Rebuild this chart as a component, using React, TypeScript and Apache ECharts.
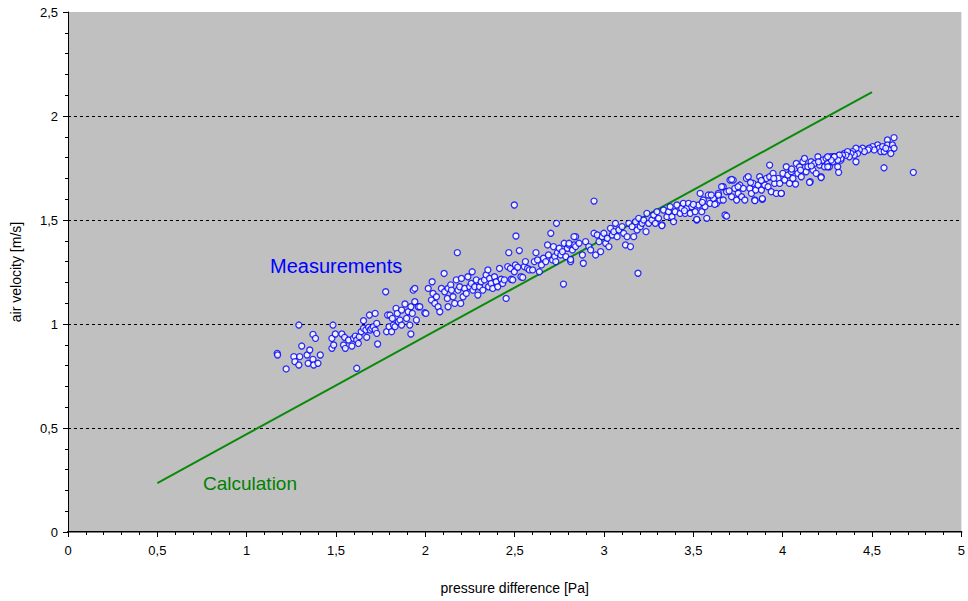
import React, { useEffect, useRef } from "react";
import * as echarts from "echarts";

const xTickValues = [0, 0.5, 1, 1.5, 2, 2.5, 3, 3.5, 4, 4.5, 5];
const yTickValues = [0, 0.5, 1, 1.5, 2, 2.5];

// Calculation (theoretical line): [pressure difference Pa, air velocity m/s]
const calculation: [number, number][] = [
  [0.5, 0.235], [1, 0.47], [1.5, 0.705], [2, 0.94], [2.5, 1.175],
  [3, 1.41], [3.5, 1.645], [4, 1.88], [4.5, 2.115],
];

const measurements: [number, number][] = [
  [1.171, 0.859], [1.173, 0.851], [1.221, 0.784], [1.264, 0.843], [1.27, 0.819], [1.292, 0.803],
  [1.297, 0.843], [1.308, 0.894], [1.292, 0.995], [1.338, 0.851], [1.353, 0.875], [1.344, 0.811],
  [1.371, 0.83], [1.375, 0.803], [1.399, 0.811], [1.412, 0.851], [1.371, 0.95], [1.385, 0.931],
  [1.477, 0.931], [1.477, 0.883], [1.487, 0.899], [1.496, 0.952], [1.483, 0.995], [1.533, 0.952],
  [1.548, 0.936], [1.542, 0.899], [1.552, 0.883], [1.57, 0.923], [1.589, 0.894], [1.598, 0.931],
  [1.608, 0.942], [1.616, 0.923], [1.616, 0.787], [1.625, 0.907], [1.63, 0.939], [1.641, 0.963],
  [1.654, 1.016], [1.654, 0.979], [1.667, 0.971], [1.672, 0.936], [1.682, 0.984], [1.687, 1.043],
  [1.691, 0.971], [1.7, 0.979], [1.709, 0.987], [1.719, 1.051], [1.719, 0.971], [1.728, 0.955],
  [1.728, 1.003], [1.733, 0.904], [1.778, 1.155], [1.783, 0.963], [1.789, 1.043], [1.797, 0.987],
  [1.802, 1.043], [1.811, 0.963], [1.815, 1.027], [1.821, 0.995], [1.83, 0.987], [1.836, 1.075],
  [1.843, 1.051], [1.849, 1.011], [1.858, 1.019], [1.867, 0.995], [1.867, 1.067], [1.886, 1.096],
  [1.895, 1.027], [1.904, 1.059], [1.913, 0.995], [1.919, 1.083], [1.919, 0.952], [1.927, 1.051],
  [1.932, 1.163], [1.941, 1.171], [1.941, 1.107], [1.95, 1.019], [1.96, 1.083], [1.997, 1.054],
  [2.003, 1.051], [1.969, 1.083], [2.016, 1.171], [2.038, 1.203], [2.034, 1.115], [2.043, 1.147],
  [2.053, 1.099], [2.062, 1.131], [2.071, 1.083], [2.081, 1.059], [2.09, 1.171], [2.105, 1.243],
  [2.108, 1.155], [2.123, 1.123], [2.127, 1.171], [2.127, 1.083], [2.142, 1.188], [2.146, 1.163],
  [2.155, 1.131], [2.164, 1.099], [2.173, 1.212], [2.179, 1.343], [2.183, 1.163], [2.192, 1.179],
  [2.198, 1.099], [2.202, 1.219], [2.211, 1.131], [2.22, 1.171], [2.229, 1.147], [2.238, 1.227],
  [2.248, 1.179], [2.257, 1.195], [2.262, 1.251], [2.266, 1.163], [2.276, 1.179], [2.285, 1.212],
  [2.294, 1.139], [2.303, 1.179], [2.312, 1.203], [2.322, 1.163], [2.331, 1.212], [2.34, 1.236],
  [2.35, 1.26], [2.354, 1.179], [2.359, 1.219], [2.368, 1.195], [2.377, 1.171], [2.387, 1.227],
  [2.396, 1.203], [2.405, 1.179], [2.415, 1.267], [2.424, 1.215], [2.433, 1.195], [2.442, 1.212],
  [2.452, 1.123], [2.461, 1.276], [2.467, 1.343], [2.476, 1.267], [2.48, 1.215], [2.489, 1.212],
  [2.498, 1.251], [2.498, 1.572], [2.507, 1.423], [2.504, 1.284], [2.517, 1.273], [2.526, 1.353],
  [2.535, 1.227], [2.545, 1.224], [2.554, 1.276], [2.56, 1.3], [2.572, 1.267], [2.582, 1.26],
  [2.6, 1.26], [2.61, 1.3], [2.619, 1.343], [2.628, 1.308], [2.638, 1.251], [2.65, 1.284],
  [2.661, 1.316], [2.674, 1.3], [2.684, 1.38], [2.689, 1.332], [2.702, 1.436], [2.712, 1.308],
  [2.717, 1.372], [2.724, 1.324], [2.73, 1.3], [2.734, 1.484], [2.739, 1.343], [2.749, 1.364],
  [2.758, 1.332], [2.767, 1.348], [2.773, 1.192], [2.777, 1.388], [2.786, 1.324], [2.795, 1.364],
  [2.804, 1.38], [2.813, 1.3], [2.823, 1.356], [2.832, 1.38], [2.841, 1.42], [2.804, 1.388],
  [2.813, 1.31], [2.832, 1.42], [2.841, 1.372], [2.86, 1.388], [2.879, 1.332], [2.884, 1.292],
  [2.897, 1.396], [2.915, 1.372], [2.925, 1.356], [2.944, 1.436], [2.944, 1.591], [2.953, 1.332],
  [2.962, 1.428], [2.972, 1.396], [2.981, 1.348], [2.99, 1.42], [2.999, 1.436], [3.009, 1.388],
  [3.018, 1.412], [3.027, 1.372], [3.036, 1.46], [3.046, 1.428], [3.055, 1.444], [3.064, 1.484],
  [3.073, 1.42], [3.083, 1.452], [3.101, 1.468], [3.11, 1.436], [3.12, 1.38], [3.129, 1.42],
  [3.139, 1.484], [3.148, 1.372], [3.157, 1.468], [3.166, 1.42], [3.176, 1.492], [3.185, 1.452],
  [3.19, 1.244], [3.194, 1.508], [3.203, 1.468], [3.213, 1.484], [3.222, 1.5], [3.235, 1.444],
  [3.24, 1.532], [3.25, 1.484], [3.268, 1.5], [3.278, 1.524], [3.287, 1.484], [3.296, 1.54],
  [3.305, 1.508], [3.324, 1.476], [3.333, 1.548], [3.352, 1.516], [3.361, 1.54], [3.37, 1.564],
  [3.38, 1.516], [3.389, 1.492], [3.398, 1.54], [3.408, 1.572], [3.426, 1.532], [3.435, 1.556],
  [3.444, 1.58], [3.454, 1.532], [3.463, 1.556], [3.473, 1.58], [3.482, 1.532], [3.491, 1.564],
  [3.51, 1.54], [3.519, 1.5], [3.529, 1.572], [3.538, 1.628], [3.547, 1.54], [3.556, 1.596],
  [3.565, 1.564], [3.575, 1.508], [3.584, 1.62], [3.593, 1.58], [3.612, 1.604], [3.63, 1.58],
  [3.64, 1.628], [3.649, 1.596], [3.667, 1.66], [3.677, 1.524], [3.686, 1.519], [3.64, 1.62],
  [3.658, 1.66], [3.667, 1.596], [3.686, 1.636], [3.705, 1.692], [3.714, 1.612], [3.723, 1.692],
  [3.732, 1.652], [3.742, 1.596], [3.751, 1.628], [3.76, 1.668], [3.77, 1.612], [3.779, 1.652],
  [3.788, 1.596], [3.797, 1.7], [3.807, 1.708], [3.816, 1.652], [3.825, 1.628], [3.834, 1.676],
  [3.844, 1.596], [3.849, 1.644], [3.862, 1.668], [3.871, 1.708], [3.881, 1.644], [3.886, 1.599],
  [3.899, 1.668], [3.909, 1.7], [3.918, 1.66], [3.927, 1.708], [3.936, 1.636], [3.946, 1.724],
  [3.955, 1.676], [3.964, 1.628], [3.974, 1.7], [3.983, 1.676], [3.992, 1.628], [4.001, 1.724],
  [4.011, 1.692], [4.02, 1.756], [4.029, 1.716], [4.038, 1.676], [4.048, 1.732], [4.057, 1.7],
  [4.072, 1.673], [4.076, 1.772], [4.085, 1.724], [4.094, 1.756], [4.104, 1.708], [4.113, 1.78],
  [4.122, 1.796], [4.131, 1.732], [4.141, 1.756], [4.154, 1.684], [4.159, 1.78], [4.169, 1.74],
  [4.178, 1.772], [4.187, 1.724], [4.197, 1.804], [4.206, 1.764], [4.215, 1.708], [4.224, 1.788],
  [4.234, 1.756], [4.243, 1.796], [4.252, 1.772], [4.261, 1.756], [4.271, 1.804], [4.28, 1.78],
  [4.289, 1.804], [4.308, 1.756], [4.317, 1.812], [4.326, 1.788], [4.345, 1.82], [4.313, 1.729],
  [4.567, 1.751], [4.731, 1.729], [4.623, 1.896], [4.586, 1.885], [4.586, 1.861], [4.596, 1.837],
  [4.614, 1.861], [4.623, 1.845], [4.605, 1.82], [4.531, 1.861], [4.54, 1.845], [4.549, 1.829],
  [4.559, 1.853], [4.568, 1.829], [4.577, 1.845], [4.503, 1.853], [4.512, 1.837], [4.484, 1.845],
  [4.477, 1.837], [4.447, 1.845], [4.457, 1.829], [4.429, 1.837], [4.419, 1.82], [4.41, 1.845],
  [4.391, 1.829], [4.401, 1.812], [4.382, 1.82], [4.373, 1.804], [4.363, 1.829], [4.354, 1.812],
  [4.335, 1.812], [4.326, 1.796], [4.317, 1.812], [4.308, 1.788], [4.41, 1.78], [4.289, 1.804],
  [4.271, 1.788], [4.252, 1.804], [4.252, 1.756], [3.324, 1.473], [3.519, 1.503], [3.844, 1.593],
  [3.886, 1.603], [3.992, 1.628], [4.15, 1.681], [4.215, 1.704], [3.927, 1.764], [3.714, 1.695],
  [3.6, 1.62], [3.62, 1.575], [3.7, 1.64], [3.75, 1.66], [3.82, 1.68], [3.88, 1.69], [3.95, 1.7],
  [4.05, 1.745], [4.1, 1.74], [4.16, 1.76], [4.2, 1.78], [3.45, 1.545], [3.5, 1.575], [3.55, 1.585],
];

const fmt = (v: number) => String(v).replace(".", ",");

export default function App() {
  const ref = useRef<HTMLDivElement>(null);
  useEffect(() => {
    if (!ref.current) return;
    const chart = echarts.init(ref.current, null, { renderer: "svg" });
    const font = "Liberation Sans, Arial, sans-serif";
    chart.setOption({
      animation: false,
      backgroundColor: "#ffffff",
      textStyle: { fontFamily: font },
      grid: {
        left: 68, top: 12, width: 901, height: 520,
        show: true, backgroundColor: "#C0C0C0", borderWidth: 0,
      },
      xAxis: [
        {
          type: "value", min: 0, max: 5, interval: 0.5,
          name: "pressure difference [Pa]", nameLocation: "middle", nameGap: 49,
          nameTextStyle: { fontSize: 14, color: "#000", fontFamily: font },
          axisLine: { show: true, onZero: false, lineStyle: { color: "#000", width: 2 } },
          axisTick: { show: true, length: 5, lineStyle: { color: "#000" } },
          minorTick: { show: true, splitNumber: 5, length: 3, lineStyle: { color: "#000" } },
          axisLabel: {
            margin: 12, fontSize: 13, color: "#000", fontFamily: font,
            formatter: (v: number) => (xTickValues.includes(v) ? fmt(v) : ""),
          },
          splitLine: { show: false },
        },
        {
          type: "value", min: 0, max: 5, position: "top",
          axisLine: { show: true, lineStyle: { color: "#808080", width: 1 } },
          axisTick: { show: false }, axisLabel: { show: false }, splitLine: { show: false },
        },
      ],
      yAxis: {
        type: "value", min: 0, max: 2.5, interval: 0.5,
        name: "air velocity [m/s]", nameLocation: "middle", nameGap: 45, nameRotate: 90,
        nameTextStyle: { fontSize: 14, color: "#000", fontFamily: font },
        axisLine: { show: true, lineStyle: { color: "#000", width: 1 } },
        axisTick: { show: true, length: 5, lineStyle: { color: "#000" } },
        minorTick: { show: true, splitNumber: 5, length: 3, lineStyle: { color: "#000" } },
        axisLabel: {
          margin: 10, fontSize: 13, color: "#000", fontFamily: font,
          formatter: (v: number) => (yTickValues.includes(v) ? fmt(v) : ""),
        },
        splitLine: {
          show: true,
          lineStyle: {
            color: ["rgba(0,0,0,0)", "#000", "#000", "#000", "#000", "rgba(0,0,0,0)"],
            type: [3, 3], width: 1,
          },
        },
      },
      series: [
        {
          type: "line",
          name: "Calculation",
          data: calculation,
          showSymbol: false,
          lineStyle: { color: "#0a8a0a", width: 2 },
          z: 3,
        },
        {
          type: "scatter",
          name: "Measurements",
          data: measurements,
          symbol: "circle",
          symbolSize: 6,
          itemStyle: { color: "#ffffff", borderColor: "#0000ff", borderWidth: 1.3 },
          z: 4,
        },
      ],
      graphic: [
        {
          type: "text", left: 270, top: 256,
          style: { text: "Measurements", fill: "#0000ff", fontSize: 20, fontFamily: font },
        },
        {
          type: "text", left: 203, top: 474,
          style: { text: "Calculation", fill: "#008000", fontSize: 19, fontFamily: font },
        },
      ],
    });
    return () => chart.dispose();
  }, []);
  return <div ref={ref} style={{ width: 968, height: 601, position: "absolute", left: 0, top: 0 }} />;
}
